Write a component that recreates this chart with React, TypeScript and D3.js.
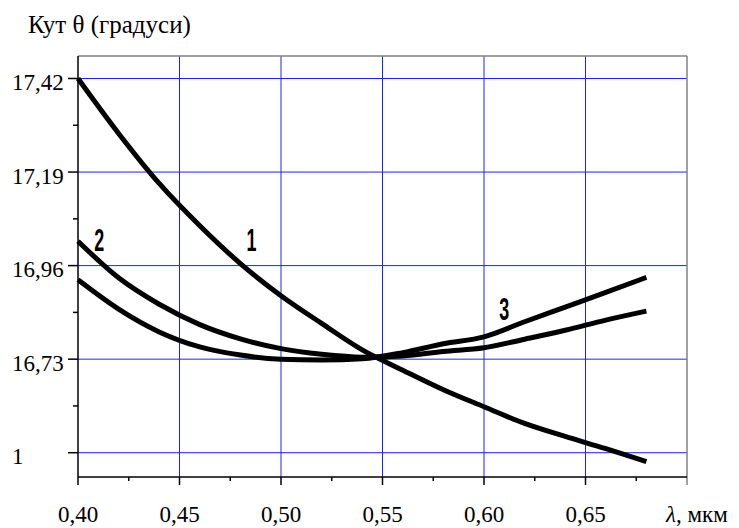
import React, { useEffect } from 'react';
import * as d3 from 'd3';

// wavelength, mkm
const lambda = [0.40, 0.42, 0.44, 0.46, 0.48, 0.50, 0.52, 0.54, 0.56, 0.58, 0.60, 0.62, 0.64, 0.66, 0.68];
// angle theta, degrees
const curve1 = [17.42, 17.285, 17.162, 17.058, 16.965, 16.886, 16.818, 16.753, 16.703, 16.655, 16.613, 16.572, 16.54, 16.51, 16.478];
const curve2 = [17.02, 16.93, 16.865, 16.815, 16.78, 16.756, 16.742, 16.735, 16.738, 16.749, 16.758, 16.779, 16.801, 16.826, 16.848];
const curve3 = [16.925, 16.853, 16.797, 16.76, 16.74, 16.73, 16.728, 16.731, 16.746, 16.768, 16.785, 16.822, 16.858, 16.894, 16.931];

const xTicks = [0.40, 0.45, 0.50, 0.55, 0.60, 0.65];
const xTickLabels = ['0,40', '0,45', '0,50', '0,55', '0,60', '0,65'];
const yTicks = [17.42, 17.19, 16.96, 16.73, 16.50];
const yTickLabels = ['17,42', '17,19', '16,96', '16,73', '1'];

const curveNames = ['1', '2', '3'];
const labelAt = [
  { l: 0.4855, v: 16.996 },
  { l: 0.4105, v: 16.996 },
  { l: 0.610, v: 16.826 },
];

const W = 739;
const H = 528;
const m = { left: 78, right: 52, top: 56, bottom: 51 };

export default function App() {
  useEffect(() => {
    document.body.style.margin = '0';
  }, []);

  const x = d3.scaleLinear().domain([0.40, 0.70]).range([m.left, W - m.right]);
  const y = d3.scaleLinear().domain([16.4403, 17.4753]).range([H - m.bottom, m.top]);

  const line = d3.line<number>()
    .x((d, i) => x(lambda[i]))
    .y(d => y(d))
    .curve(d3.curveMonotoneX);

  const x0 = x(0.40), x1 = x(0.70), y0 = y.range()[0], y1 = y.range()[1];
  const minorX = d3.range(0.425, 0.70, 0.05);
  const minorY = yTicks.slice(0, -1).map((t, i) => (t + yTicks[i + 1]) / 2);
  const serif = '"Times New Roman", "Liberation Serif", Times, "DejaVu Serif", serif';

  return (
    <svg width={W} height={H} style={{ display: 'block', background: '#fff' }}>
      {/* grid */}
      {yTicks.map(t => (
        <line key={'gy' + t} x1={x0} x2={x1} y1={y(t)} y2={y(t)} stroke="#2020ff" strokeWidth={1} />
      ))}
      {xTicks.slice(1).map(t => (
        <line key={'gx' + t} x1={x(t)} x2={x(t)} y1={y1} y2={y0} stroke="#2020ff" strokeWidth={1} />
      ))}
      {/* frame */}
      <line x1={x0} x2={x1} y1={y1} y2={y1} stroke="#808080" strokeWidth={1.5} />
      <line x1={x1} x2={x1} y1={y1} y2={y0 + 8} stroke="#808080" strokeWidth={1.5} />
      <line x1={x0} x2={x0} y1={y1} y2={y0 + 8} stroke="#000" strokeWidth={1.5} />
      <line x1={x0} x2={x1} y1={y0} y2={y0} stroke="#000" strokeWidth={1.5} />

      {/* ticks */}
      {yTicks.map(t => (
        <line key={'ty' + t} x1={x0 - 10} x2={x0} y1={y(t)} y2={y(t)} stroke="#000" strokeWidth={1.5} />
      ))}
      {minorY.map(t => (
        <line key={'my' + t} x1={x0 - 5} x2={x0} y1={y(t)} y2={y(t)} stroke="#000" strokeWidth={1.5} />
      ))}
      {xTicks.slice(1).map(t => (
        <line key={'tx' + t} x1={x(t)} x2={x(t)} y1={y0} y2={y0 + 8} stroke="#000" strokeWidth={1.5} />
      ))}
      {minorX.map(t => (
        <line key={'mx' + t} x1={x(t)} x2={x(t)} y1={y0} y2={y0 + 4} stroke="#000" strokeWidth={1.5} />
      ))}

      <g fontFamily={serif} fontSize={23} fill="#000">
        {/* tick labels */}
        {yTickLabels.map((s, i) => (
          <text key={'ly' + s} x={12} y={y(yTicks[i]) + 11.5}>{s}</text>
        ))}
        {xTickLabels.map((s, i) => (
          <text key={'lx' + s} x={x(xTicks[i])} y={522} textAnchor="middle">{s}</text>
        ))}
        <text x={666} y={522}>
          <tspan fontStyle="italic">λ</tspan>, мкм
        </text>
        <text x={28} y={33} fontSize={25}>Кут θ (градуси)</text>
      </g>

      {/* curves */}
      {[curve1, curve2, curve3].map((c, i) => (
        <path key={'c' + i} d={line(c) || ''} fill="none" stroke="#000" strokeWidth={5} strokeLinejoin="round" strokeLinecap="butt" />
      ))}
      {curveNames.map((s, i) => {
        const px = x(labelAt[i].l);
        const py = y(labelAt[i].v);
        return (
          <text key={'n' + s} transform={`translate(${px},${py}) scale(0.56,1)`} textAnchor="middle"
            fontFamily="Liberation Sans, Arial, sans-serif" fontWeight="bold" fontSize={32}>{s}</text>
        );
      })}
    </svg>
  );
}
